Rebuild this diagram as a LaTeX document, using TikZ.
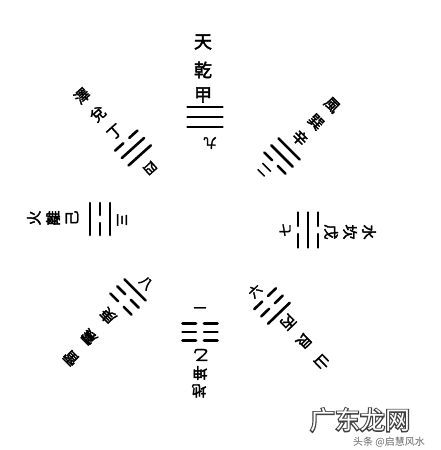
\documentclass[tikz,border=0pt]{standalone}
\usepackage{fontspec}
\newfontfamily\cjk[AutoFakeBold=2.4]{Noto Sans CJK TC}
\newfontfamily\cjkwmout[AutoFakeBold=9]{Noto Sans CJK SC}
\newfontfamily\cjkwmin{Noto Sans CJK SC}
\newfontfamily\cjksc{Noto Sans CJK SC}
\tikzset{
  ch/.style={inner sep=0pt, font=\cjk\bfseries\fontsize{18}{18}\selectfont},
  chs/.style={inner sep=0pt, font=\cjk\bfseries\fontsize{15}{15}\selectfont},
  num/.style={inner sep=0pt, font=\cjk\bfseries\fontsize{13}{13}\selectfont},
  yaoline/.style={line width=2.6pt, line cap=round},
  wm/.style={inner sep=0pt, font=\fontsize{25}{25}\selectfont},
  wmsmall/.style={inner sep=0pt, font=\cjksc\fontsize{10}{10}\selectfont, text=black!60}
}
\def\gualen{16}
\def\guagap{10}
\newcommand\yao[2]{%
  \ifnum#2=1
    \draw[yaoline] (-\gualen,#1) -- (\gualen,#1);
  \else
    \draw[yaoline] (-\gualen,#1) -- (-4,#1) (4,#1) -- (\gualen,#1);
  \fi}
\newcommand\gua[5]{% position, rotation, inner, middle, outer
  \begin{scope}[shift={#1},rotate=#2]
    \yao{-\guagap}{#3}\yao{0}{#4}\yao{\guagap}{#5}
  \end{scope}}
\begin{document}
\begin{tikzpicture}[x=1pt,y=1pt]
\useasboundingbox (0,0) rectangle (440,450);
\fill[white] (0,0) rectangle (440,450);

% top: qian
\node[ch] (t1) at (203,408) {天};
\node[ch] (t2) at (203,380) {乾};
\node[ch] (t3) at (203,355) {甲};
\def\gualen{17.5}
\gua{(205,333)}{0}{1}{1}{1}
\node[num,rotate=180] (tn) at (210,307) {九};

% left: li
\node[chs,rotate=90] (l1) at (34,232) {火};
\node[chs,rotate=90] (l2) at (53,232) {離};
\node[chs,rotate=90] (l3) at (72,232) {己};
\def\gualen{16}
\gua{(100,231)}{90}{1}{0}{1}
\node[num,rotate=270] (ln) at (122,230) {三};

% right: kan
\node[chs,rotate=-90] (r1) at (369,218) {水};
\node[chs,rotate=-90] (r2) at (350,218) {坎};
\node[chs,rotate=-90] (r3) at (331,218) {戊};
\def\gualen{17.5}
\gua{(308,220)}{-90}{0}{1}{0}
\node[num,rotate=90] (rn) at (285,220) {七};

% bottom: kun
\node[chs,rotate=180] (b1) at (199,59) {地};
\node[chs,rotate=180] (b2) at (200,77) {坤};
\node[chs,rotate=180] (b3) at (201,95) {乙};
\def\guagap{8.5}
\gua{(200,118)}{180}{0}{0}{0}
\def\guagap{10}
\node[num] (bn) at (200,140) {一};

% top-left: dui
\node[chs,rotate=42] (tl1) at (82,354) {澤};
\node[chs,rotate=42] (tl2) at (98,336) {兌};
\node[chs,rotate=42] (tl3) at (115,318) {丁};
\def\gualen{15}
\gua{(133,302)}{42}{1}{1}{0}
\node[num,rotate=222] (tln) at (150,282) {四};

% top-right: xun
\node[chs,rotate=-45] (tr1) at (332,345) {風};
\node[chs,rotate=-45] (tr2) at (316,328) {巽};
\node[chs,rotate=-45] (tr3) at (300,312) {辛};
\gua{(282,294)}{-45}{0}{1}{1}
\node[num,rotate=135] (trn) at (264,280) {二};

% bottom-left: zhen
\node[chs,rotate=135] (bl1) at (71,92) {雷};
\node[chs,rotate=135] (bl2) at (89,113) {震};
\node[chs,rotate=135] (bl3) at (108,134) {庚};
\gua{(128,153)}{135}{1}{0}{0}
\node[num,rotate=315] (bln) at (146,167) {八};

% bottom-right: gen
\node[chs,rotate=224] (br1) at (322,88) {山};
\node[chs,rotate=224] (br2) at (304,109) {艮};
\node[chs,rotate=224] (br3) at (288,128) {丙};
\gua{(272,144)}{224}{0}{0}{1}
\node[num,rotate=44] (brn) at (255,159) {六};

% watermark: outlined text
\node[wm] (wmt) at (360,30)
  {\rlap{\cjkwmout\bfseries\color{black!75}广东龙网}{\cjkwmin\color{white}广东龙网}};
\node[wmsmall] (wms) at (389,8) {头条 @启慧风水};
\end{tikzpicture}
\end{document}
